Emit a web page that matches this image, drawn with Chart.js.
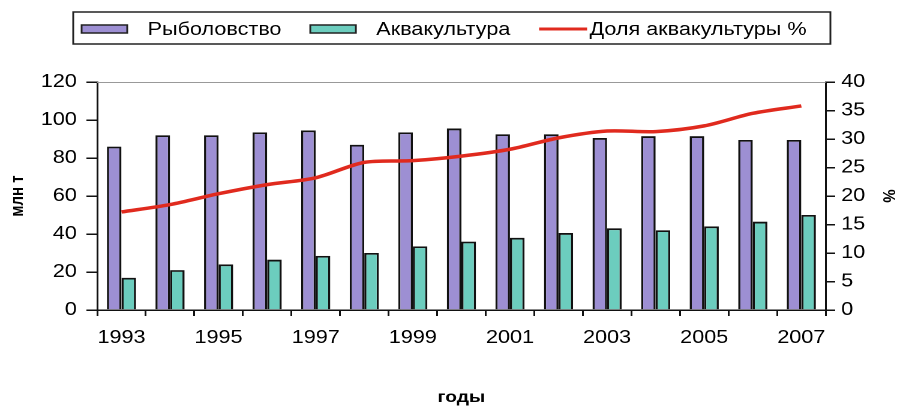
<!doctype html>
<html lang="ru">
    <head>
        <meta charset="UTF-8" />
        <title>Рыболовство и аквакультура</title>
        <script src="https://cdn.jsdelivr.net/npm/chart.js"></script>
        <style>
            html, body { margin: 0; padding: 0; background: #fff; overflow: hidden; }
            /* исходная картинка растянута по горизонтали */
            #wrap {
                position: absolute; left: 0; top: 0;
                width: 749px; height: 407px;
                transform: scaleX(1.2); transform-origin: 0 0;
            }
        </style>
    </head>
    <body>
        <div id="wrap"><canvas id="chart"></canvas></div>
        <script>
            const years = ["1993", "1994", "1995", "1996", "1997", "1998", "1999", "2000",
                "2001", "2002", "2003", "2004", "2005", "2006", "2007"];
            const fishing = [86, 92, 92, 93.5, 94.5, 87, 93.5, 95.5, 92.5, 92.5, 90.5, 91.5, 91.5, 89.5, 89.5];
            const aquaculture = [17, 21, 24, 26.5, 28.5, 30, 33.5, 36, 38, 40.5, 43, 42, 44, 46.5, 50];
            const aquaShare = [17.2, 18.5, 20.4, 22, 23.2, 25.9, 26.2, 27, 28.2, 30.2, 31.4, 31.3, 32.3, 34.5, 35.8];

            const FONT = "'Liberation Sans', Arial, sans-serif";
            Chart.defaults.font.family = FONT;
            Chart.defaults.font.size = 18;
            Chart.defaults.color = "#000";

            // рамка легенды и верхняя граница области построения
            const legendBox = {
                id: "legendBox",
                afterDraw(chart) {
                    const ctx = chart.ctx;
                    const area = chart.chartArea;
                    ctx.save();
                    ctx.strokeStyle = "#999";
                    ctx.lineWidth = 1;
                    ctx.beginPath();
                    ctx.moveTo(area.left, area.top + 0.5);
                    ctx.lineTo(area.right, area.top + 0.5);
                    ctx.stroke();

                    ctx.strokeStyle = "#222";
                    ctx.lineWidth = 1.5;
                    ctx.strokeRect(61, 12, 631, 32);

                    ctx.font = "18px " + FONT;
                    ctx.textBaseline = "middle";
                    const cy = 29;
                    let x = 68;
                    chart.data.datasets.forEach((ds) => {
                        if (ds.type === "line") {
                            ctx.strokeStyle = ds.borderColor;
                            ctx.lineWidth = 3;
                            ctx.beginPath();
                            ctx.moveTo(x, cy);
                            ctx.lineTo(x + 40, cy);
                            ctx.stroke();
                            x += 42;
                        } else {
                            ctx.fillStyle = ds.backgroundColor;
                            ctx.fillRect(x, cy - 4, 38, 8);
                            ctx.strokeStyle = "#222";
                            ctx.lineWidth = 1.5;
                            ctx.strokeRect(x, cy - 4, 38, 8);
                            x += 55;
                        }
                        ctx.fillStyle = "#000";
                        ctx.fillText(ds.label, x, cy + 1);
                        x += ctx.measureText(ds.label).width + 24;
                    });
                    ctx.restore();
                },
            };

            new Chart(document.getElementById("chart").getContext("2d"), {
                data: {
                    labels: years,
                    datasets: [
                        {
                            type: "bar",
                            label: "Рыболовство",
                            data: fishing,
                            yAxisID: "y",
                            backgroundColor: "#9d8fd3",
                            borderColor: "#111",
                            borderWidth: 1.8,
                            order: 1,
                        },
                        {
                            type: "bar",
                            label: "Аквакультура",
                            data: aquaculture,
                            yAxisID: "y",
                            backgroundColor: "#6ccdbe",
                            borderColor: "#111",
                            borderWidth: 1.8,
                            order: 1,
                        },
                        {
                            type: "line",
                            label: "Доля аквакультуры %",
                            data: aquaShare,
                            yAxisID: "y1",
                            borderColor: "#e02a1e",
                            borderWidth: 3.5,
                            pointRadius: 0,
                            tension: 0.3,
                            order: 0,
                        },
                    ],
                },
                options: {
                    responsive: true,
                    maintainAspectRatio: false,
                    animation: false,
                    devicePixelRatio: 2,
                    layout: { padding: { top: 82, left: 0, right: 0, bottom: 0 } },
                    datasets: { bar: { categoryPercentage: 0.6, barPercentage: 1.0 } },
                    plugins: { legend: { display: false }, tooltip: { enabled: false } },
                    scales: {
                        x: {
                            offset: true,
                            afterFit: (s) => { s.height = 97; },
                            grid: { offset: true, drawOnChartArea: false, tickLength: 6, color: "#111", lineWidth: 1.5 },
                            border: { color: "#111", width: 1.5 },
                            ticks: {
                                autoSkip: false,
                                maxRotation: 0,
                                padding: 11,
                                callback: (v, i) => (i % 2 === 0 ? years[i] : ""),
                            },
                            title: {
                                display: true,
                                text: "годы",
                                font: { size: 16, weight: "bold" },
                                padding: { top: 0, bottom: 0 },
                            },
                        },
                        y: {
                            position: "left",
                            min: 0,
                            max: 120,
                            afterFit: (s) => { s.width = 81; },
                            grid: { drawOnChartArea: false, tickLength: 9, color: "#111", lineWidth: 1.5 },
                            border: { color: "#111", width: 1.5 },
                            ticks: { stepSize: 20, padding: 8 },
                            title: {
                                display: true,
                                text: "млн т",
                                font: { size: 15, weight: "bold" },
                                padding: { top: 6, bottom: 0 },
                            },
                        },
                        y1: {
                            position: "right",
                            min: 0,
                            max: 40,
                            afterFit: (s) => { s.width = 61; },
                            grid: { drawOnChartArea: false, tickLength: 8, color: "#111", lineWidth: 1.5 },
                            border: { color: "#111", width: 1.5 },
                            ticks: { stepSize: 5, padding: 5 },
                            title: {
                                display: true,
                                text: "%",
                                font: { size: 15, weight: "bold" },
                                padding: { top: 0, bottom: 0 },
                            },
                        },
                    },
                },
                plugins: [legendBox],
            });
        </script>
    </body>
</html>
